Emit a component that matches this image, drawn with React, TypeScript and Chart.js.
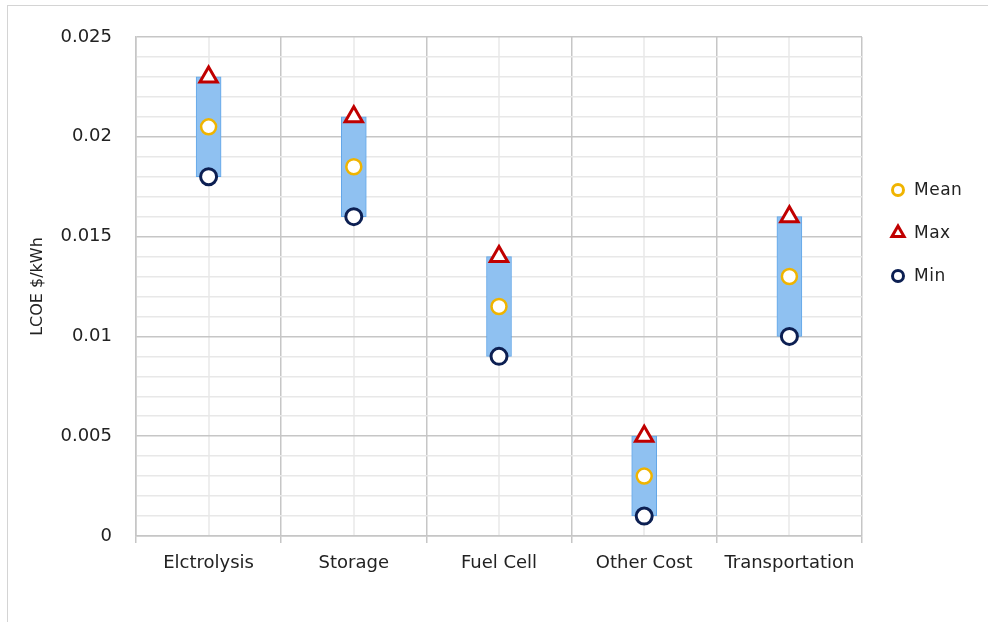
import React, { useEffect, useRef } from 'react';
import { Chart, registerables } from 'chart.js';

Chart.register(...registerables);

const categories = ['Elctrolysis', 'Storage', 'Fuel Cell', 'Other Cost', 'Transportation'];
const meanValues = [0.0205, 0.0185, 0.0115, 0.003, 0.013];
const maxValues = [0.023, 0.021, 0.014, 0.005, 0.016];
const minValues = [0.018, 0.016, 0.009, 0.001, 0.01];
const yMin = 0;
const yMax = 0.025;
const yMajorStep = 0.005;
const yMinorStep = 0.001;
const yTitle = 'LCOE $/kWh';
const seriesNames = ['Mean', 'Max', 'Min'];

const FONT = "'DejaVu Sans', sans-serif";
const TEXT = '#222222';
const MAJOR = '#c6c6c6';
const MINOR = '#e8e8e8';
const seriesColors = ['#f0b400', '#c00000', '#0c1f52'];
const seriesStyles = ['circle', 'triangle', 'circle'];
const seriesRadius = [7.5, 10, 8];
const seriesBorder = [2.5, 3, 3];

const isMajor = (v: number) => Math.abs(v / yMajorStep - Math.round(v / yMajorStep)) < 1e-6;

function drawMarker(ctx: CanvasRenderingContext2D, style: string, x: number, y: number, r: number, color: string, lw: number) {
  ctx.save();
  ctx.beginPath();
  if (style === 'triangle') {
    let rad = 0;
    ctx.moveTo(x + Math.sin(rad) * r, y - Math.cos(rad) * r);
    rad += (2 * Math.PI) / 3;
    ctx.lineTo(x + Math.sin(rad) * r, y - Math.cos(rad) * r);
    rad += (2 * Math.PI) / 3;
    ctx.lineTo(x + Math.sin(rad) * r, y - Math.cos(rad) * r);
    ctx.closePath();
  } else {
    ctx.arc(x, y, r, 0, Math.PI * 2);
  }
  ctx.fillStyle = '#ffffff';
  ctx.fill();
  ctx.lineWidth = lw;
  ctx.strokeStyle = color;
  ctx.stroke();
  ctx.restore();
}

const minorVerticalPlugin = {
  id: 'minorVertical',
  beforeDraw(chart: any) {
    const { ctx, chartArea, scales } = chart;
    const xs = scales.x;
    ctx.save();
    ctx.strokeStyle = MINOR;
    ctx.lineWidth = 1.5;
    categories.forEach((_, i) => {
      const px = Math.round(xs.getPixelForValue(i));
      ctx.beginPath();
      ctx.moveTo(px, chartArea.top);
      ctx.lineTo(px, chartArea.bottom);
      ctx.stroke();
    });
    ctx.restore();
  },
};

const legendPlugin = {
  id: 'customLegend',
  afterDraw(chart: any) {
    const { ctx } = chart;
    const x0 = 898;
    const y0 = 190;
    const gap = 43;
    ctx.save();
    ctx.font = `17px ${FONT}`;
    ctx.textBaseline = 'middle';
    ctx.textAlign = 'left';
    seriesNames.forEach((name, i) => {
      const y = y0 + i * gap;
      drawMarker(ctx, seriesStyles[i], x0, y, i === 1 ? 7 : 5.5, seriesColors[i], 3);
      ctx.fillStyle = TEXT;
      try {
        (ctx as any).letterSpacing = '0.5px';
      } catch (e) {}
      ctx.fillText(name, x0 + 16, y + 1);
    });
    ctx.restore();
  },
};

export default function App() {
  const ref = useRef<HTMLCanvasElement | null>(null);

  useEffect(() => {
    if (!ref.current) return;
    const seriesData = [meanValues, maxValues, minValues];
    const chart = new Chart(ref.current, {
      type: 'bar',
      data: {
        labels: categories,
        datasets: [
          ...seriesNames.map((name, i) => ({
            type: 'line' as const,
            label: name,
            data: seriesData[i],
            showLine: false,
            pointStyle: seriesStyles[i] as any,
            pointRadius: seriesRadius[i],
            pointHoverRadius: seriesRadius[i],
            pointBorderWidth: seriesBorder[i],
            pointBackgroundColor: '#ffffff',
            pointBorderColor: seriesColors[i],
            borderColor: seriesColors[i],
            backgroundColor: '#ffffff',
          })),
          {
            type: 'bar' as const,
            label: 'Range',
            data: minValues.map((v, i) => [v, maxValues[i]]),
            backgroundColor: '#8fc1f1',
            borderColor: '#62a6e8',
            borderWidth: 1,
            borderSkipped: false,
            barThickness: 25,
            order: 10,
          },
        ] as any,
      },
      options: {
        responsive: false,
        animation: false,
        devicePixelRatio: 1,
        layout: { padding: { left: 0, top: 37, right: 126, bottom: 0 } },
        plugins: {
          legend: { display: false },
          tooltip: { enabled: false },
        },
        scales: {
          x: {
            type: 'category',
            offset: true,
            grid: {
              offset: true,
              color: MAJOR,
              lineWidth: 1.5,
              drawTicks: true,
              tickLength: 7,
            },
            border: { display: true, color: MAJOR, width: 1.5 },
            ticks: {
              color: TEXT,
              font: { family: FONT, size: 18 },
              padding: 10,
              maxRotation: 0,
              autoSkip: false,
            },
            afterFit: (s: any) => {
              s.height = 86;
            },
          },
          y: {
            type: 'linear',
            min: yMin,
            max: yMax,
            grid: {
              color: (c: any) => (c.tick && isMajor(c.tick.value) ? MAJOR : MINOR),
              lineWidth: 1.5,
              drawTicks: false,
            },
            border: { display: true, color: MAJOR, width: 1.5 },
            ticks: {
              stepSize: yMinorStep,
              autoSkip: false,
              color: TEXT,
              font: { family: FONT, size: 18 },
              padding: 24,
              callback: (v: any) => (isMajor(Number(v)) ? String(Number(Number(v).toFixed(3))) : ''),
            },
            title: {
              display: true,
              text: yTitle,
              color: TEXT,
              font: { family: FONT, size: 16 },
              padding: { top: 28, bottom: 0 },
            },
            afterFit: (s: any) => {
              s.width = 136;
            },
          },
        },
      },
      plugins: [minorVerticalPlugin, legendPlugin],
    });
    return () => chart.destroy();
  }, []);

  return (
    <div style={{ position: 'fixed', left: 0, top: 0, width: 988, height: 622, background: '#ffffff', overflow: 'hidden' }}>
      <div
        style={{
          position: 'absolute',
          left: 7,
          top: 5,
          width: 990,
          height: 660,
          border: '1px solid #d4d4d4',
          boxSizing: 'border-box',
        }}
      />
      <canvas ref={ref} width={988} height={622} style={{ position: 'absolute', left: 0, top: 0, width: 988, height: 622 }} />
    </div>
  );
}
